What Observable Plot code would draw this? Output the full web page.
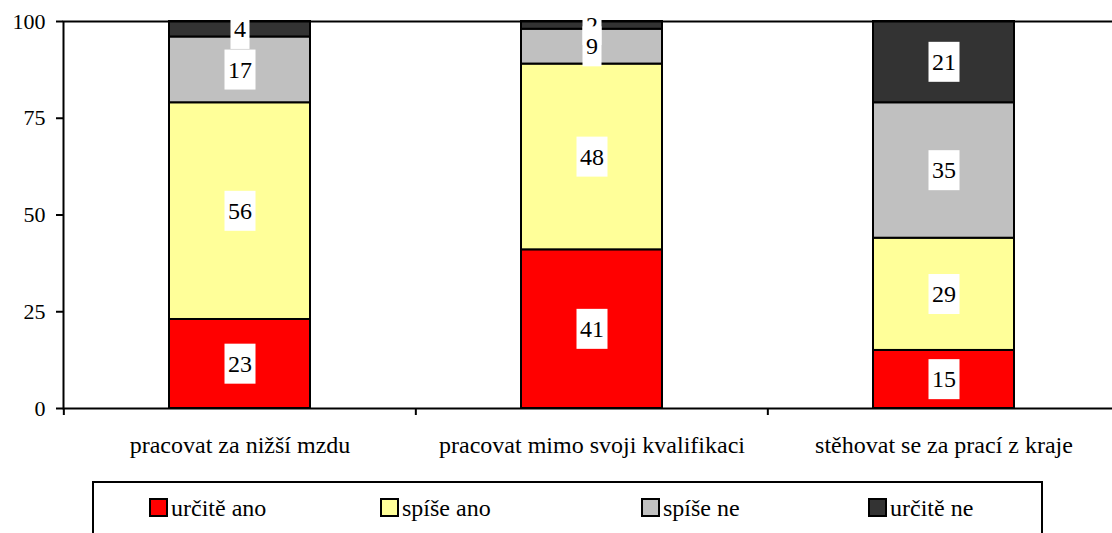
<!DOCTYPE html>
<html>
<head>
<meta charset="utf-8">
<script src="https://cdn.jsdelivr.net/npm/d3@7"></script>
<script src="https://cdn.jsdelivr.net/npm/@observablehq/plot@0.6"></script>
<style>
  html, body { margin: 0; padding: 0; background: #fff; overflow: hidden; }
  #wrap { width: 1112px; overflow: hidden; font-family: "Liberation Serif", Tinos, "Times New Roman", Times, "DejaVu Serif", serif; }
  #chart svg { max-width: none !important; width: 1120px !important; height: 475px !important; display: block; }
  #chart svg text { font-family: "Liberation Serif", Tinos, "Times New Roman", Times, "DejaVu Serif", serif; }
  #legend { position: relative; box-sizing: border-box; margin-left: 92px; margin-top: 6px; width: 951px; height: 70px; border: 2px solid #000; }
  .item { position: absolute; top: 13px; font-size: 24px; line-height: 24px; white-space: nowrap; color: #000; }
  .sw { position: absolute; box-sizing: border-box; width: 19px; height: 19px; border: 2px solid #000; top: 2px; left: 0; }
  .lab { position: absolute; left: 22px; top: 0; }
</style>
</head>
<body>
<div id="wrap"><div id="chart"></div><div id="legend"></div></div>
<script>
const categories = ["pracovat za nižší mzdu", "pracovat mimo svoji kvalifikaci", "stěhovat se za prací z kraje"];
const series = ["určitě ano", "spíše ano", "spíše ne", "určitě ne"];
const urciteAno = [23, 41, 15];
const spiseAno = [56, 48, 29];
const spiseNe = [17, 9, 35];
const urciteNe = [4, 2, 21];
const yTicks = [0, 25, 50, 75, 100];
const colors = ["#ff0000", "#ffff99", "#c0c0c0", "#333333"];
const legendLeft = [55, 286, 547, 774];

const values = [urciteAno, spiseAno, spiseNe, urciteNe];
const data = series.flatMap((s, i) => categories.map((c, j) => ({category: c, series: s, value: values[i][j]})));

const W = 1120, ML = 63;
const halfBand = (W - ML) / categories.length / 2;
const FONT = '"Liberation Serif", Tinos, "Times New Roman", Times, "DejaVu Serif", serif';

const chart = Plot.plot({
  width: W,
  height: 475,
  marginLeft: ML,
  marginRight: 0,
  marginTop: 21,
  marginBottom: 67,
  style: {fontFamily: FONT, fontSize: "22px", color: "#000", background: "#fff"},
  x: {domain: categories, paddingInner: 0.6, paddingOuter: 0.3, label: null},
  y: {domain: [0, 100], label: null},
  color: {domain: series, range: colors},
  marks: [
    Plot.barY(data, {x: "category", y: "value", fill: "series", stroke: "#000", strokeWidth: 2}),
    Plot.frame({stroke: "#000", strokeWidth: 2}),
    Plot.axisY({ticks: yTicks, tickSize: 7, tickPadding: 11, strokeWidth: 2, fontSize: 22, label: null}),
    Plot.axisX({ticks: categories, tickSize: 7, strokeWidth: 2, tickFormat: () => "", dx: -halfBand, label: null}),
    Plot.axisX({ticks: categories, tickSize: 0, tickPadding: 27, fontSize: 24, label: null}),
    Plot.text(data, Plot.stackY({x: "category", y: "value", z: "series", text: "value", fontSize: 24, fill: "#000"}))
  ]
});
document.getElementById("chart").appendChild(chart);

// white label boxes behind each value label (drawn top series first, like the original)
const groups = chart.querySelectorAll('g[aria-label="text"]');
const g = groups[groups.length - 1];
if (g) {
  const texts = Array.from(g.querySelectorAll("text"));
  const ns = "http://www.w3.org/2000/svg";
  texts.reverse().forEach(t => {
    const b = t.getBBox();
    const r = document.createElementNS(ns, "rect");
    const px = 3.5, py = 7;
    r.setAttribute("x", b.x - px);
    r.setAttribute("y", b.y - py);
    r.setAttribute("width", b.width + 2 * px);
    r.setAttribute("height", b.height + 2 * py);
    r.setAttribute("fill", "#fff");
    r.setAttribute("stroke", "none");
    if (t.getAttribute("transform")) r.setAttribute("transform", t.getAttribute("transform"));
    g.appendChild(r);
    g.appendChild(t);
  });
}

const legend = document.getElementById("legend");
series.forEach((s, i) => {
  const it = document.createElement("div");
  it.className = "item";
  it.style.left = legendLeft[i] + "px";
  const sw = document.createElement("span");
  sw.className = "sw";
  sw.style.background = colors[i];
  const lab = document.createElement("span");
  lab.className = "lab";
  lab.textContent = s;
  it.appendChild(sw);
  it.appendChild(lab);
  legend.appendChild(it);
});
</script>
</body>
</html>
